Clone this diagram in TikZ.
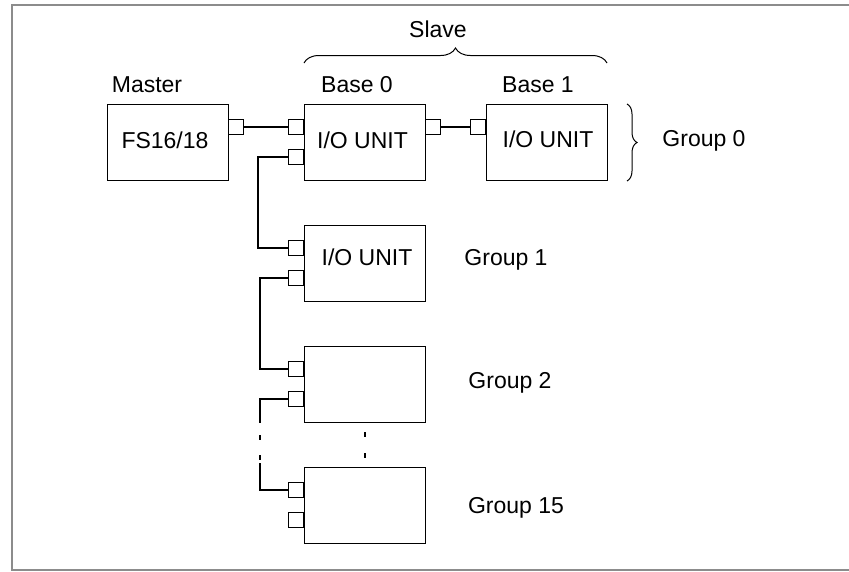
\documentclass[tikz,border=0pt]{standalone}
\usepackage{fontspec}
\setmainfont{Liberation Sans}
\usetikzlibrary{decorations.pathreplacing}
\definecolor{framec}{RGB}{140,140,140}
\begin{document}
\begin{tikzpicture}[x=1pt,y=-1pt,
  unit/.style={draw, line width=1.3pt, minimum width=121pt, minimum height=76pt, inner sep=0pt, anchor=north west},
  port/.style={draw, line width=1.1pt, minimum size=15pt, inner sep=0pt},
  lbl/.style={inner sep=0pt, anchor=base, font=\fontsize{23}{27}\selectfont},
  wire/.style={line width=1.1pt},
  bracestyle/.style={line width=1pt, decorate}]
\useasboundingbox (0,0) rectangle (849,571);
\begin{scope}
\clip (0,0) rectangle (849,571);
\draw[framec, line width=2pt] (900,4.5) -- (12,4.5) -- (12,569.5) -- (900,569.5);
\end{scope}

% units
\node[unit] (fs)  at (107,104) {};
\node[unit] (b0)  at (304,104) {};
\node[unit] (b1)  at (486,104) {};
\node[unit] (g1)  at (304,225) {};
\node[unit] (g2)  at (304,346) {};
\node[unit] (g15) at (304,467) {};

% ports
\node[port, anchor=west] (fsp)   at (228,127) {};
\node[port, anchor=east] (b0l1)  at (304,127) {};
\node[port, anchor=east] (b0l2)  at (304,157) {};
\node[port, anchor=west] (b0r)   at (425,127) {};
\node[port, anchor=east] (b1l)   at (486,127) {};
\node[port, anchor=east] (g1l1)  at (304,248) {};
\node[port, anchor=east] (g1l2)  at (304,278) {};
\node[port, anchor=east] (g2l1)  at (304,369) {};
\node[port, anchor=east] (g2l2)  at (304,399) {};
\node[port, anchor=east] (g15l1) at (304,490) {};
\node[port, anchor=east] (g15l2) at (304,520) {};

% labels
\node[lbl] (tmaster) at (147,92) {Master};
\node[lbl] (tbase0)  at (357,92) {Base 0};
\node[lbl] (tbase1)  at (538,92) {Base 1};
\node[lbl] (tslave)  at (438,37) {Slave};
\node[lbl] (tg0)     at (704,146) {Group 0};
\node[lbl] (tg1)     at (506,265) {Group 1};
\node[lbl] (tg2)     at (510,388) {Group 2};
\node[lbl] (tg15)    at (516,513) {Group 15};
\node[lbl] (tfs)     at (165,148) {FS16/18};
\node[lbl] (tio0)    at (362.5,148) {I/O UNIT};
\node[lbl] (tio1)    at (548,147) {I/O UNIT};
\node[lbl] (tio2)    at (367,265) {I/O UNIT};

% wires
\coordinate (c1) at (258,0);
\coordinate (c2) at (260,0);
\coordinate (d1) at (260,423);
\coordinate (d2) at (260,435);
\coordinate (d3) at (260,440);
\coordinate (d4) at (260,455);
\coordinate (d5) at (260,460);
\coordinate (d6) at (260,463);
\coordinate (m1) at (365,432);
\coordinate (m2) at (365,437);
\coordinate (m3) at (365,453);
\coordinate (m4) at (365,458);

\draw[wire] (fsp.east) -- (b0l1.west);
\draw[wire] (b0r.east) -- (b1l.west);
\draw[wire] (b0l2.west) -- (b0l2.west -| c1) -- (g1l1.west -| c1) -- (g1l1.west);
\draw[wire] (g1l2.west) -- (g1l2.west -| c2) -- (g2l1.west -| c2) -- (g2l1.west);
\draw[wire] (g2l2.west) -- (g2l2.west -| c2) -- (d1);
\draw[wire] (d2) -- (d3);
\draw[wire] (d4) -- (d5);
\draw[wire] (d6) -- (g15l1.west -| d6) -- (g15l1.west);
\draw[wire] (m1) -- (m2);
\draw[wire] (m3) -- (m4);

% braces
\draw[bracestyle, decoration={brace, amplitude=15pt}] (304,63) -- (607,63);
\draw[bracestyle, decoration={brace, amplitude=10pt}] (627,104) -- (627,181);
\end{tikzpicture}
\end{document}
